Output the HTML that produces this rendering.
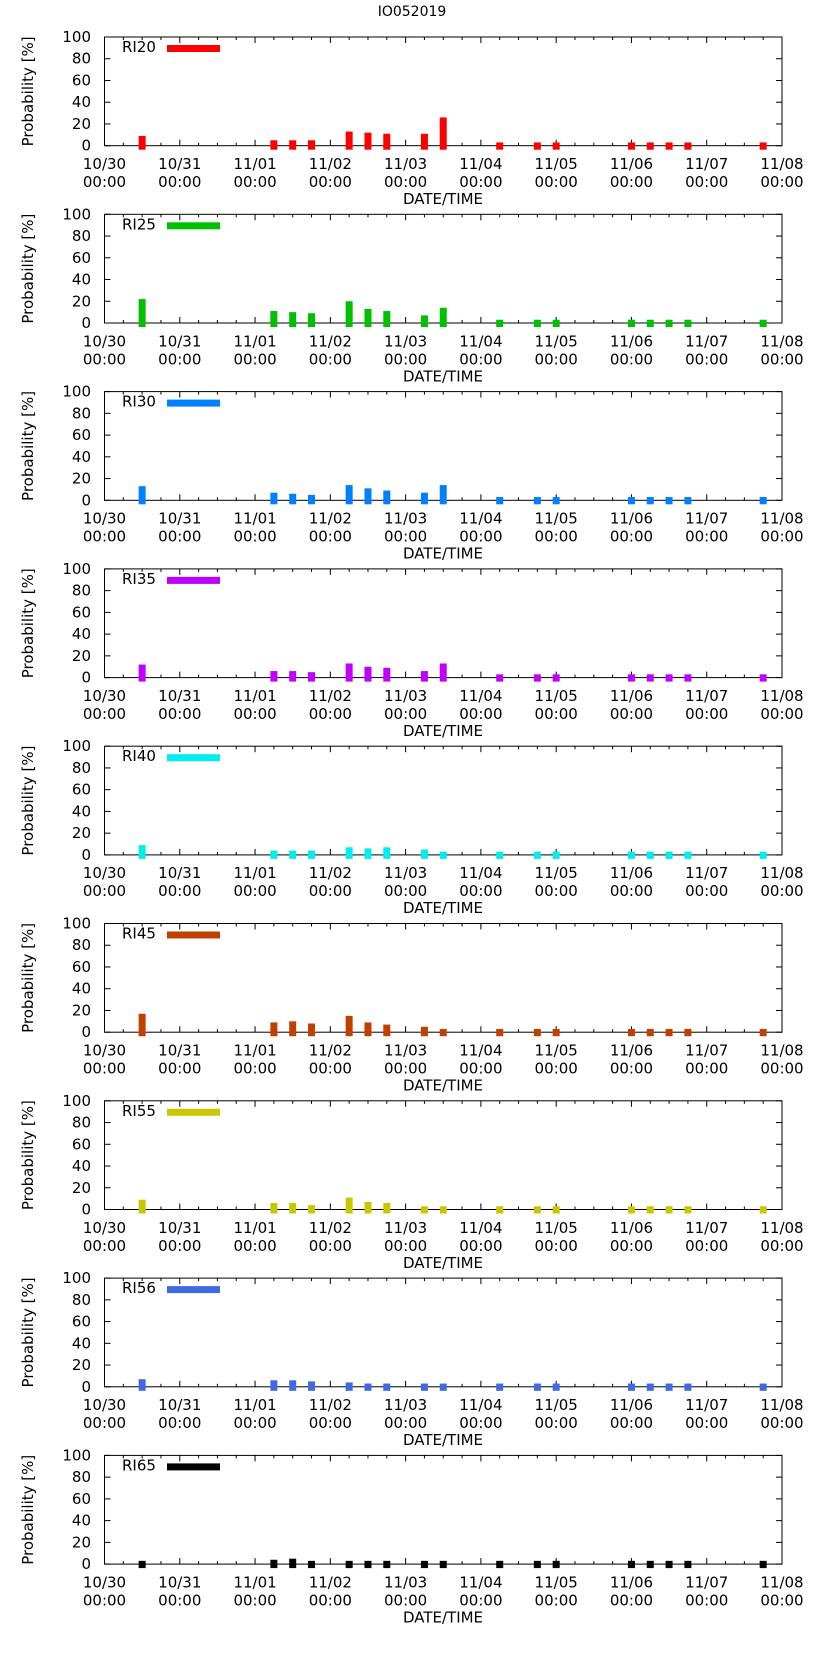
<!DOCTYPE html>
<html><head><meta charset="utf-8">
<style>
html,body{margin:0;padding:0;background:#fff;}
svg{display:block;font-family:"DejaVu Sans","Liberation Sans",sans-serif;}
</style></head>
<body>
<svg id="chart" width="823" height="1653" viewBox="0 0 823 1653" xmlns="http://www.w3.org/2000/svg">
<text x="412" y="16" text-anchor="middle" font-size="14">IO052019</text>
</svg>
<script>
const seriesNames = ["RI20","RI25","RI30","RI35","RI40","RI45","RI55","RI56","RI65"];
const seriesColors = ["#ff0000","#00c000","#0080ff","#c000ff","#00eeee","#c04000","#c8c800","#4169e1","#000000"];
const barDays = [0.5,2.25,2.5,2.75,3.25,3.5,3.75,4.25,4.5,5.25,5.75,6.0,7.0,7.25,7.5,7.75,8.75];
const vRI20 = [9,5,5,5,13,12,11,11,26,3,3,3,3,3,3,3,3];
const vRI25 = [22,11,10,9,20,13,11,7,14,3,3,3,3,3,3,3,3];
const vRI30 = [13,7,6,5,14,11,9,7,14,3,3,3,3,3,3,3,3];
const vRI35 = [12,6,6,5,13,10,9,6,13,3,3,3,3,3,3,3,3];
const vRI40 = [9,4,4,4,7,6,7,5,3,3,3,3,3,3,3,3,3];
const vRI45 = [17,9,10,8,15,9,7,5,3,3,3,3,3,3,3,3,3];
const vRI55 = [9,6,6,4,11,7,6,3,3,3,3,3,3,3,3,3,3];
const vRI56 = [7,6,6,5,4,3,3,3,3,3,3,3,3,3,3,3,3];
const vRI65 = [3,4,5,3,3,3,3,3,3,3,3,3,3,3,3,3,3];
const allValues = [vRI20,vRI25,vRI30,vRI35,vRI40,vRI45,vRI55,vRI56,vRI65];
const xTickDates = ["10/30","10/31","11/01","11/02","11/03","11/04","11/05","11/06","11/07","11/08"];
const yTicks = [0,20,40,60,80,100];

const NS="http://www.w3.org/2000/svg";
const svg=document.getElementById('chart');
const L=104.5,R=782,H=108.7,STEP=177.3,TOP0=37;
function mk(tag,attrs,parent){const e=document.createElementNS(NS,tag);for(const k in attrs)e.setAttribute(k,attrs[k]);(parent||svg).appendChild(e);return e;}
function xs(d){return L+d*(R-L)/9;}
seriesNames.forEach((name,p)=>{
  const top=TOP0+p*STEP, zero=top+H;
  const ys=v=>zero-v/100*H;
  const g=mk('g',{});
  
  
  const border=mk('rect',{x:L,y:top,width:R-L,height:H,fill:'none',stroke:'#000','stroke-width':1},g);
  
  
  // x ticks
  for(let i=0;i<=36;i++){
    const x=xs(i/4), len=(i%4===0)?6:3;
    mk('line',{x1:x,y1:zero,x2:x,y2:zero-len,stroke:'#000'},g);
    mk('line',{x1:x,y1:top,x2:x,y2:top+len,stroke:'#000'},g);
  }
  xTickDates.forEach((d,i)=>{
    const t=mk('text',{x:xs(i),y:top+132,'text-anchor':'middle','font-size':15},g);
    t.textContent=d;
    
    
    const t2=mk('text',{x:xs(i),y:top+150,'text-anchor':'middle','font-size':15},g);
    t2.textContent='00:00';
    
    
  });
  yTicks.forEach(v=>{
    const y=ys(v);
    mk('line',{x1:L,y1:y,x2:L+6,y2:y,stroke:'#000'},g);
    mk('line',{x1:R,y1:y,x2:R-6,y2:y,stroke:'#000'},g);
    const t=mk('text',{x:91,y:y+5,'text-anchor':'end','font-size':15},g);
    t.textContent=v;
    
    
  });
  const yl=mk('text',{x:0,y:0,transform:`translate(33,${top+H/2}) rotate(-90)`,'text-anchor':'middle','font-size':15},g);
  yl.textContent='Probability [%]';
  
  
  const xl=mk('text',{x:443,y:top+167,'text-anchor':'middle','font-size':15},g);
  xl.textContent='DATE/TIME';
  
  
  // legend
  const lt=mk('text',{x:122,y:top+15,'font-size':15},g);
  lt.textContent=name;
  
  
  const ls=mk('rect',{x:167,y:top+8,width:53,height:7,fill:seriesColors[p]},g);
  
  
  // bars
  allValues[p].forEach((v,i)=>{
    const x=xs(barDays[i]);
    const y=ys(v);
    const b=mk('rect',{x:x-3.5,y:y,width:7,height:zero+4-y,fill:seriesColors[p]},g);
    
    
  });
});
</script>
</body></html>
